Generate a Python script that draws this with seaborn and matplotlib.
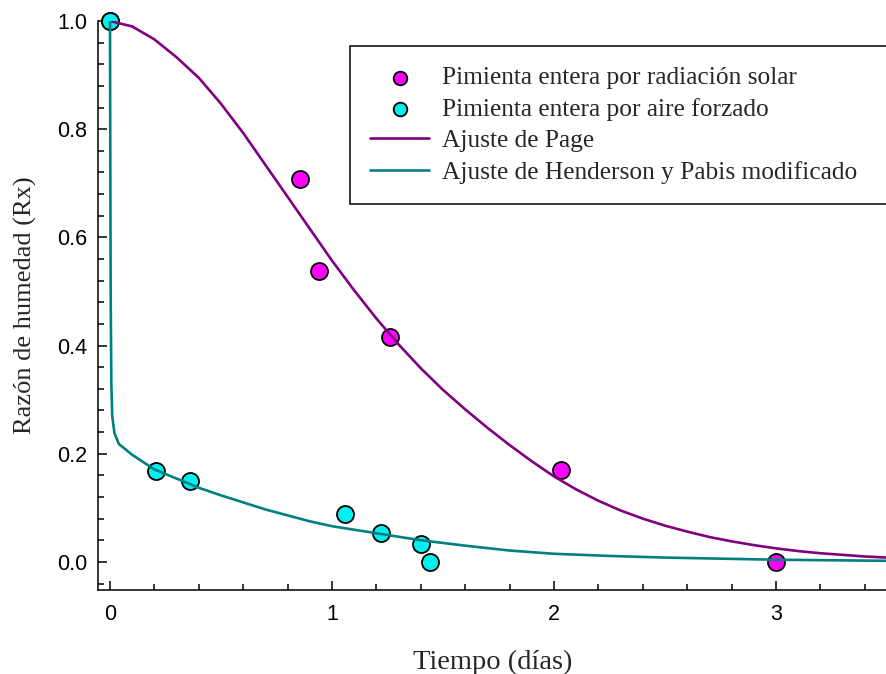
import numpy as np
import pandas as pd
import matplotlib
matplotlib.use('Agg')
import matplotlib.pyplot as plt
import seaborn as sns

# datos experimentales (tiempo en dias, razon de humedad)
t_solar = [0.0, 0.856, 0.94, 1.26, 2.03, 3.0]
rx_solar = [1.0, 0.708, 0.537, 0.416, 0.170, 0.0]

t_aire = [0.0, 0.207, 0.36, 1.06, 1.22, 1.40, 1.44]
rx_aire = [1.0, 0.168, 0.150, 0.089, 0.054, 0.033, 0.0]

# curvas de ajuste
t_page = [0.0, 0.1, 0.2, 0.3, 0.4, 0.5, 0.6, 0.7, 0.8, 0.9, 1.0, 1.1, 1.2,
          1.3, 1.4, 1.5, 1.6, 1.7, 1.8, 1.9, 2.0, 2.1, 2.2, 2.3, 2.4, 2.5,
          2.6, 2.7, 2.8, 2.9, 3.0, 3.1, 3.2, 3.3, 3.4, 3.5]
rx_page = [1.000, 0.990, 0.966, 0.933, 0.895, 0.847, 0.793, 0.734, 0.675, 0.616,
           0.557, 0.502, 0.450, 0.402, 0.358, 0.318, 0.282, 0.248, 0.216, 0.186,
           0.158, 0.134, 0.113, 0.095, 0.080, 0.067, 0.056, 0.046, 0.038, 0.031,
           0.025, 0.020, 0.016, 0.013, 0.010, 0.008]

t_hp = [0.0, 0.001, 0.003, 0.006, 0.01, 0.02, 0.04, 0.1, 0.2, 0.3, 0.4, 0.5,
        0.6, 0.7, 0.8, 0.9, 1.0, 1.2, 1.4, 1.6, 1.8, 2.0, 2.25, 2.5, 2.75,
        3.0, 3.25, 3.5]
rx_hp = [1.0, 0.80, 0.50, 0.33, 0.27, 0.238, 0.218, 0.198, 0.171, 0.154, 0.137,
         0.123, 0.110, 0.097, 0.086, 0.075, 0.066, 0.053, 0.040, 0.030, 0.021,
         0.015, 0.011, 0.008, 0.006, 0.004, 0.003, 0.002]

sns.set_theme(style='ticks')
plt.rcParams['font.family'] = ['Liberation Sans', 'DejaVu Sans']

fig = plt.figure(figsize=(8.87, 6.74), dpi=100)
ax = fig.add_axes([0.1105, 0.1246, 0.8895, 0.8442])

sns.lineplot(x=t_page, y=rx_page, color='#800080', lw=1.9, sort=False,
             ax=ax, zorder=3, label='Ajuste de Page')
sns.lineplot(x=t_hp, y=rx_hp, color='#008080', lw=1.9, sort=False,
             ax=ax, zorder=3, label='Ajuste de Henderson y Pabis modificado')
sns.scatterplot(x=t_solar, y=rx_solar, color='#FF00FF', s=150, edgecolor='black',
                linewidth=1.3, ax=ax, zorder=2, clip_on=False,
                label='Pimienta entera por radiación solar')
sns.scatterplot(x=t_aire, y=rx_aire, color='#00F0F0', s=150, edgecolor='black',
                linewidth=1.3, ax=ax, zorder=2, clip_on=False,
                label='Pimienta entera por aire forzado')

ax.set_xlim(-0.054, 3.5)
ax.set_ylim(-0.052, 1.0)
ax.set_xticks([0, 1, 2, 3])
ax.set_xticklabels(['0', '1', '2', '3'])
ax.set_yticks([0.0, 0.2, 0.4, 0.6, 0.8, 1.0])
ax.set_yticklabels(['0.0', '0.2', '0.4', '0.6', '0.8', '1.0'])
ax.set_xticks(np.arange(0, 3.5, 0.2), minor=True)
ax.set_yticks(np.arange(-0.04, 1.0, 0.04), minor=True)
ax.tick_params(which='major', direction='in', length=6.5, width=1.1,
               labelsize=15.5, color='black', labelcolor='black')
ax.tick_params(which='minor', direction='in', length=4.3, width=1.1, color='black')
ax.tick_params(axis='x', which='major', pad=10)
ax.tick_params(axis='y', which='major', pad=8)
sns.despine(ax=ax)
for s in ['left', 'bottom']:
    ax.spines[s].set_linewidth(1.1)
    ax.spines[s].set_color('black')

ax.set_xlabel('Tiempo (días)', family='Liberation Serif', fontsize=20.5, labelpad=18)
ax.set_ylabel('Razón de humedad (Rx)', family='Liberation Serif', fontsize=19, labelpad=14)

h, l = ax.get_legend_handles_labels()
order = [2, 3, 0, 1]
leg = ax.legend([h[i] for i in order], [l[i] for i in order],
                loc='upper left', bbox_to_anchor=(0.3194, 0.956, 0.70, 0.0),
                mode='expand', borderaxespad=0,
                prop={'family': 'Liberation Serif', 'size': 18.3},
                frameon=True, fancybox=False, edgecolor='black',
                framealpha=1, borderpad=0.8, labelspacing=0.34,
                handlelength=2.3, handletextpad=0.5, markerscale=0.8)
leg.get_frame().set_linewidth(1.1)
leg.set_clip_on(False)

fig.savefig('out.png', dpi=100)
